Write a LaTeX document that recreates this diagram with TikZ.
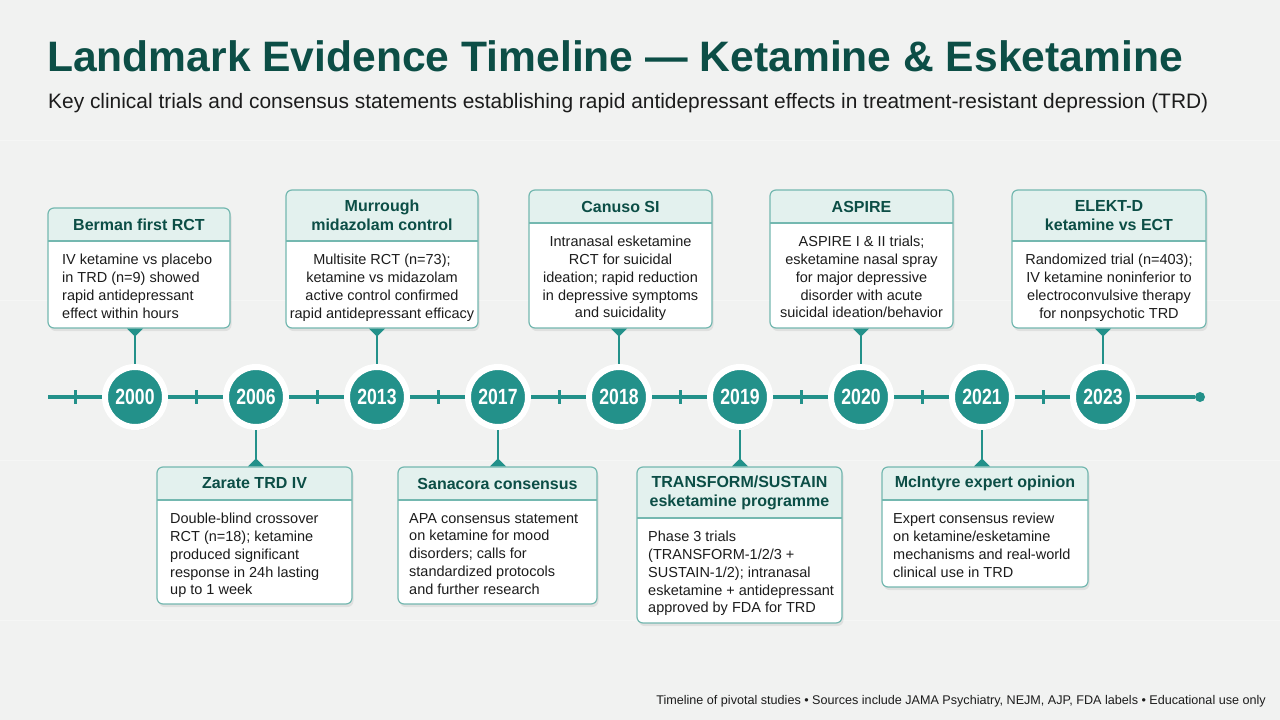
\documentclass[tikz,border=0pt]{standalone}
\usepackage{fontspec}
\setmainfont{Liberation Sans}
\usetikzlibrary{calc,fit,shadows}
\definecolor{bgc}{HTML}{F1F2F1}
\definecolor{titlec}{HTML}{0C4E46}
\definecolor{teal}{HTML}{23918A}
\definecolor{cardborder}{HTML}{74B8B0}
\definecolor{headfill}{HTML}{E3F1EE}
\definecolor{bodyc}{HTML}{1C1C1C}
\tikzset{
  x=1pt, y=-1pt,
  yearnode/.style={circle, fill=teal, draw=white, line width=6pt, minimum size=60pt, inner sep=0pt,
    text=white, font=\bfseries\fontsize{22}{22}\selectfont,
    drop shadow={opacity=0.18, shadow xshift=1pt, shadow yshift=-3pt}},
  tlline/.style={draw=teal, line width=4pt},
  tickmark/.style={draw=teal, line width=3pt},
  conn/.style={draw=teal, line width=2.2pt},
  ptr/.style={fill=teal},
  headtext/.style={align=center, text=titlec, font=\bfseries\fontsize{16}{19}\selectfont, inner sep=0pt},
  bodytext/.style={text=bodyc, font=\fontsize{14.5}{17.8}\selectfont, inner sep=0pt},
  cardframe/.style={draw=cardborder, line width=1.2pt, rounded corners=6pt, inner sep=0pt},
}
\newcommand\yrtext[1]{\scalebox{0.8}[1]{#1}}
% card frame and header: name, x1, y1, x2, y2, ydiv, title
\newcommand\mkcardframe[7]{%
  \fill[black, opacity=0.07, rounded corners=6pt] ($(#2,#3)+(1.5,3)$) rectangle ($(#4,#5)+(1.5,3)$);
  \begin{scope}
    \clip[rounded corners=6pt] (#2,#3) rectangle (#4,#5);
    \fill[white] (#2,#3) rectangle (#4,#5);
    \fill[headfill] (#2,#3) rectangle (#4,#6);
  \end{scope}
  \draw[cardborder, line width=1.2pt] (#2,#6) -- (#4,#6);
  \node[cardframe, fit={(#2,#3) (#4,#5)}] (#1) {};
  \node[headtext] (#1-h) at ($(#2,#3)!0.5!(#4,#6)$) {#7};
}
% centered body: name, x1, x2, ydiv, body
\newcommand\cbody[5]{\node[bodytext, align=center, anchor=north] (#1-b) at ($(#2,#4)!0.5!(#3,#4)+(0,13)$) {#5};}
% left body: name, x1, ydiv, body
\newcommand\lbody[4]{\node[bodytext, align=left, anchor=north west] (#1-b) at ($(#2,#3)+(11,13)$) {#4};}
\begin{document}
\begin{tikzpicture}
\useasboundingbox (0,0) rectangle (1280,720);
\fill[bgc] (0,0) rectangle (1280,720);
\foreach \yy in {140,300,460,620}{\draw[white, opacity=0.35, line width=1pt] (0,\yy) -- (1280,\yy);}

% title
\node[anchor=base west, inner sep=0pt, text=titlec, font=\bfseries\fontsize{42.6}{43}\selectfont] (title) at (47,71)
  {Landmark Evidence Timeline — Ketamine \& Esketamine};
\node[anchor=base west, inner sep=0pt, text=bodyc, font=\fontsize{20.9}{21}\selectfont] (subtitle) at (48,108)
  {Key clinical trials and consensus statements establishing rapid antidepressant effects in treatment-resistant depression (TRD)};

% timeline
\coordinate (lstart) at (48,397);
\node[circle, fill=teal, minimum size=10pt, inner sep=0pt] (lend) at (1200,397) {};
\draw[tlline] (lstart) -- (lend);
\foreach \tx in {75,196,317,438,559,680,801,922,1043}{
  \draw[tickmark] (\tx,390) -- (\tx,404);
}
\node[yearnode] (y2000) at (135,397) {\yrtext{2000}};
\node[yearnode] (y2006) at (256,397) {\yrtext{2006}};
\node[yearnode] (y2013) at (377,397) {\yrtext{2013}};
\node[yearnode] (y2017) at (498,397) {\yrtext{2017}};
\node[yearnode] (y2018) at (619,397) {\yrtext{2018}};
\node[yearnode] (y2019) at (740,397) {\yrtext{2019}};
\node[yearnode] (y2020) at (861,397) {\yrtext{2020}};
\node[yearnode] (y2021) at (982,397) {\yrtext{2021}};
\node[yearnode] (y2023) at (1103,397) {\yrtext{2023}};

% top cards
\mkcardframe{c2000}{48}{208}{230}{328}{241}{Berman first RCT}
\node[bodytext, align=left, anchor=north west] (c2000-b) at (62,254) {IV ketamine vs placebo\\in TRD (n=9) showed\\rapid antidepressant\\effect within hours};
\mkcardframe{c2013}{286}{190}{478}{328}{241}{Murrough\\midazolam control}
\cbody{c2013}{286}{478}{241}{Multisite RCT (n=73);\\ketamine vs midazolam\\active control confirmed\\rapid antidepressant efficacy}
\mkcardframe{c2018}{529}{190}{712}{328}{223}{Canuso SI}
\cbody{c2018}{529}{712}{223}{Intranasal esketamine\\RCT for suicidal\\ideation; rapid reduction\\in depressive symptoms\\and suicidality}
\mkcardframe{c2020}{770}{190}{953}{328}{223}{ASPIRE}
\cbody{c2020}{770}{953}{223}{ASPIRE I \& II trials;\\esketamine nasal spray\\for major depressive\\disorder with acute\\suicidal ideation/behavior}
\mkcardframe{c2023}{1012}{190}{1206}{328}{241}{ELEKT-D\\ketamine vs ECT}
\cbody{c2023}{1012}{1206}{241}{Randomized trial (n=403);\\IV ketamine noninferior to\\electroconvulsive therapy\\for nonpsychotic TRD}

% bottom cards
\mkcardframe{c2006}{157}{467}{352}{604}{500}{Zarate TRD IV}
\node[bodytext, align=left, anchor=north west] (c2006-b) at (170,513) {Double-blind crossover\\RCT (n=18); ketamine\\produced significant\\response in 24h lasting\\up to 1 week};
\mkcardframe{c2017}{398}{467}{597}{604}{500}{Sanacora consensus}
\lbody{c2017}{398}{500}{APA consensus statement\\on ketamine for mood\\disorders; calls for\\standardized protocols\\and further research}
\mkcardframe{c2019}{637}{467}{842}{623}{518}{TRANSFORM/SUSTAIN\\esketamine programme}
\lbody{c2019}{637}{518}{Phase 3 trials\\(TRANSFORM-1/2/3 +\\SUSTAIN-1/2); intranasal\\esketamine + antidepressant\\approved by FDA for TRD}
\mkcardframe{c2021}{882}{467}{1088}{587}{500}{McIntyre expert opinion}
\lbody{c2021}{882}{500}{Expert consensus review\\on ketamine/esketamine\\mechanisms and real-world\\clinical use in TRD}

% connectors, top
\foreach \yr in {2000,2013,2018,2020,2023}{
  \draw[conn] (c\yr.south -| y\yr) -- (y\yr.north);
  \fill[ptr] ($(c\yr.south -| y\yr)+(-8,0)$) -- ($(c\yr.south -| y\yr)+(8,0)$) -- ($(c\yr.south -| y\yr)+(0,8)$) -- cycle;
}
% connectors, bottom
\foreach \yr in {2006,2017,2019,2021}{
  \draw[conn] (y\yr.south) -- (c\yr.north -| y\yr);
  \fill[ptr] ($(c\yr.north -| y\yr)+(-8,0)$) -- ($(c\yr.north -| y\yr)+(8,0)$) -- ($(c\yr.north -| y\yr)+(0,-8)$) -- cycle;
}

% footer
\node[anchor=base east, inner sep=0pt, text=bodyc, font=\fontsize{12.6}{13}\selectfont] (footer) at (1266,704)
  {Timeline of pivotal studies • Sources include JAMA Psychiatry, NEJM, AJP, FDA labels • Educational use only};
\end{tikzpicture}
\end{document}
